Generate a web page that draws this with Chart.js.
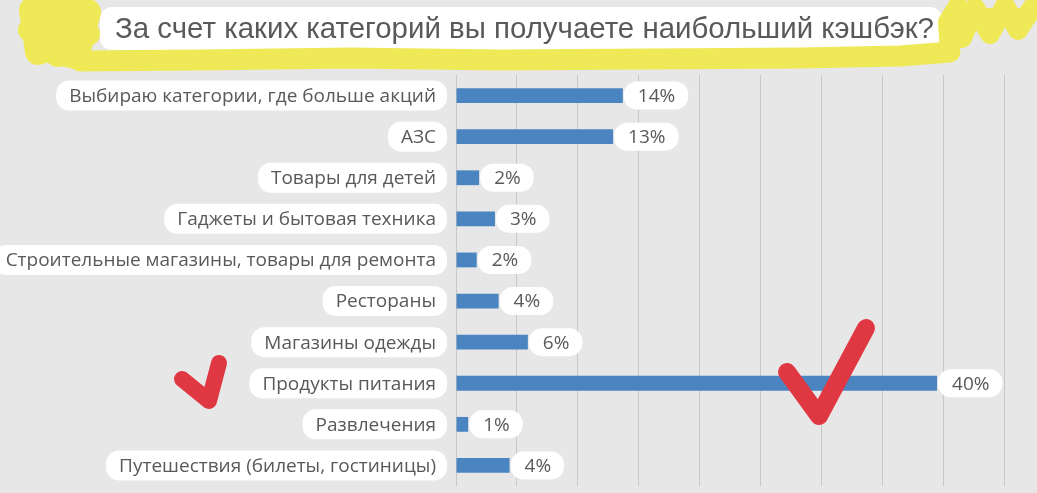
<!DOCTYPE html>
<html lang="ru">
<head>
<meta charset="utf-8">
<title>Кэшбэк по категориям</title>
<script src="https://cdn.jsdelivr.net/npm/chart.js@4.4.1/dist/chart.umd.min.js"></script>
<style>
  html, body { margin: 0; padding: 0; background: #e7e7e7; overflow: hidden; }
  #wrap { width: 1037px; height: 493px; position: relative; }
</style>
</head>
<body>
<div id="wrap"><canvas id="cashbackChart"></canvas></div>
<script>
const chartTitle = 'За счет каких категорий вы получаете наибольший кэшбэк?';
const categories = [
    'Выбираю категории, где больше акций',
    'АЗС',
    'Товары для детей',
    'Гаджеты и бытовая техника',
    'Строительные магазины, товары для ремонта',
    'Рестораны',
    'Магазины одежды',
    'Продукты питания',
    'Развлечения',
    'Путешествия (билеты, гостиницы)'
];
const shares = [13.7, 12.9, 1.9, 3.2, 1.7, 3.5, 5.9, 39.5, 1.0, 4.4];
const axisMin = 0;
const axisMax = 45;
const axisStep = 5;

const labelFont = '19px "Open Sans", sans-serif';
const textGray = '#595959';

function pill(ctx, x, y, w, h, r) {
    ctx.beginPath();
    ctx.roundRect(x, y, w, h, r);
    ctx.fillStyle = '#ffffff';
    ctx.fill();
}

function stroke(ctx, pts, width, color) {
    ctx.beginPath();
    ctx.moveTo(pts[0][0], pts[0][1]);
    for (let i = 1; i < pts.length; i++) ctx.lineTo(pts[i][0], pts[i][1]);
    ctx.lineWidth = width;
    ctx.strokeStyle = color;
    ctx.lineCap = 'round';
    ctx.lineJoin = 'round';
    ctx.stroke();
}

// Title box, yellow marker around it
const titlePlugin = {
    id: 'titleBox',
    beforeDraw(chart) {
        const ctx = chart.ctx;
        ctx.save();
        pill(ctx, 100, 7, 842, 43, 12);
        ctx.font = '30px "Liberation Sans", Arial, sans-serif';
        ctx.fillStyle = textGray;
        ctx.textBaseline = 'middle';
        const w = ctx.measureText(chartTitle).width;
        const target = 819;
        ctx.translate(115, 30);
        ctx.scale(target / w, 1);
        ctx.fillText(chartTitle, 0, 0);
        ctx.restore();

        ctx.save();
        const yellow = '#efe958';
        // left scribble
        stroke(ctx, [[32, 10], [38, 52], [50, 8], [58, 54], [70, 6], [78, 50], [88, 12]], 26, yellow);
        stroke(ctx, [[30, 30], [60, 28], [88, 34]], 24, yellow);
        stroke(ctx, [[40, 52], [75, 60], [95, 62]], 18, yellow);
        // bottom band
        stroke(ctx, [[80, 61], [200, 60], [350, 58], [500, 60], [650, 59], [800, 58], [900, 56], [950, 52]], 21, yellow);
        // right scribble
        stroke(ctx, [[950, 52], [948, 22], [958, 6]], 20, yellow);
        stroke(ctx, [[962, 38], [975, 8], [990, 34], [1005, 6], [1018, 30], [1032, 8]], 20, yellow);
        stroke(ctx, [[955, 12], [1000, 16], [1034, 14]], 14, yellow);
        ctx.restore();
    }
};

// Category labels in white pills to the left of the axis
const categoryPlugin = {
    id: 'categoryPills',
    afterDraw(chart) {
        const ctx = chart.ctx;
        const y = chart.scales.y;
        ctx.save();
        ctx.font = labelFont;
        ctx.textBaseline = 'middle';
        ctx.textAlign = 'right';
        categories.forEach((c, i) => {
            const cy = y.getPixelForValue(i);
            const w = ctx.measureText(c).width;
            const right = 447;
            pill(ctx, right - w - 24, cy - 15, w + 24, 30, 13);
            ctx.fillStyle = textGray;
            ctx.fillText(c, right - 11, cy + 1);
        });
        ctx.restore();
    }
};

// Value labels at the end of each bar
const valuePlugin = {
    id: 'valuePills',
    afterDatasetsDraw(chart) {
        const ctx = chart.ctx;
        const meta = chart.getDatasetMeta(0);
        ctx.save();
        ctx.font = labelFont;
        ctx.textBaseline = 'middle';
        ctx.textAlign = 'left';
        meta.data.forEach((bar, i) => {
            const txt = Math.round(shares[i]) + '%';
            const w = ctx.measureText(txt).width;
            pill(ctx, bar.x + 1, bar.y - 14, w + 27, 28, 13);
            ctx.fillStyle = textGray;
            ctx.fillText(txt, bar.x + 15, bar.y + 1);
        });
        ctx.restore();
    }
};

// Hand-drawn red check marks
const checkPlugin = {
    id: 'checks',
    afterDraw(chart) {
        const ctx = chart.ctx;
        ctx.save();
        const red = '#e03843';
        stroke(ctx, [[182, 379], [209, 401], [219, 363]], 16, red);
        stroke(ctx, [[787, 372], [819, 416], [866, 328]], 18, red);
        ctx.restore();
    }
};

const ctx = document.getElementById('cashbackChart').getContext('2d');
new Chart(ctx, {
    type: 'bar',
    data: {
        labels: categories,
        datasets: [{
            data: shares,
            backgroundColor: '#4a84c1',
            barPercentage: 0.36,
            categoryPercentage: 1
        }]
    },
    options: {
        indexAxis: 'y',
        responsive: true,
        maintainAspectRatio: false,
        animation: false,
        layout: { padding: { left: 456, right: 33, top: 75, bottom: 7 } },
        plugins: {
            legend: { display: false },
            tooltip: { enabled: false }
        },
        scales: {
            x: {
                min: axisMin,
                max: axisMax,
                ticks: { stepSize: axisStep, display: false },
                grid: { color: '#c8c8c8', lineWidth: 1, drawTicks: false },
                border: { display: false }
            },
            y: {
                ticks: { display: false },
                grid: { display: false, drawTicks: false },
                border: { display: false }
            }
        }
    },
    plugins: [titlePlugin, categoryPlugin, valuePlugin, checkPlugin]
});
</script>
</body>
</html>
